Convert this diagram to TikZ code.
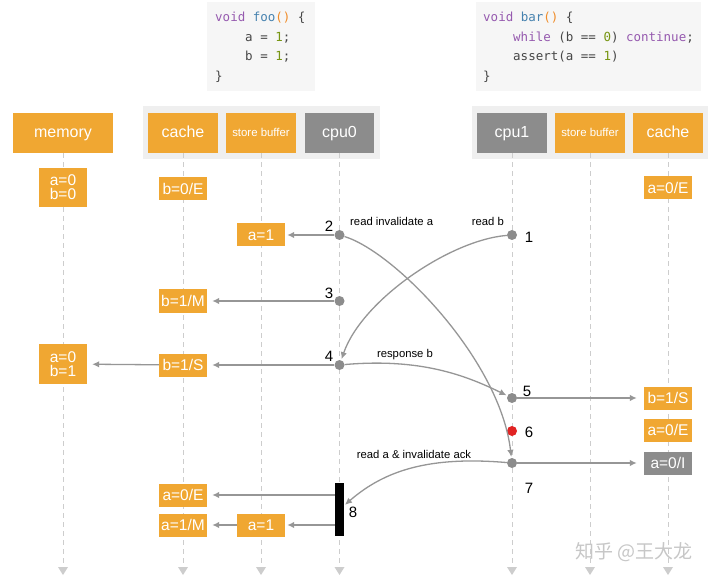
\documentclass[tikz,border=0pt]{standalone}
\usepackage{fontspec}
\setmainfont{Liberation Sans}
\newfontfamily\codefont{DejaVu Sans Mono}
\newfontfamily\cjk{Noto Sans CJK SC}
\usetikzlibrary{arrows.meta}
\definecolor{orng}{RGB}{240,167,50}
\definecolor{gbox}{RGB}{140,140,140}
\definecolor{panel}{RGB}{239,239,239}
\definecolor{codebg}{RGB}{246,246,246}
\definecolor{lline}{RGB}{205,205,205}
\definecolor{arr}{RGB}{150,150,150}
\definecolor{kw}{RGB}{150,90,175}
\definecolor{fn}{RGB}{70,130,175}
\definecolor{par}{RGB}{240,140,40}
\definecolor{num}{RGB}{120,150,20}
\definecolor{ctext}{RGB}{70,70,70}
\definecolor{reddot}{RGB}{225,35,35}
\tikzset{
  hdr/.style={fill=orng, text=white, inner sep=0pt, minimum height=40pt, text height=9pt, text depth=0pt, font=\fontsize{16}{18}\selectfont},
  cpubox/.style={hdr, fill=gbox},
  sbox/.style={hdr, text height=7pt, font=\fontsize{11.4}{13}\selectfont},
  val/.style={fill=orng, text=white, inner sep=0pt, minimum height=23pt, minimum width=48pt, font=\fontsize{15.5}{17}\selectfont, align=center},
  lifeline/.style={draw=lline, line width=1pt, dash pattern=on 5pt off 4pt},
  lltip/.style={fill=lline, draw=none},
  msg/.style={draw=arr, line width=1.3pt, -{Latex[length=7pt,width=6.5pt]}, shorten >=5pt},
  dot/.style={circle, fill=gbox, inner sep=0pt, minimum size=10pt},
  num/.style={font=\fontsize{15}{17}\selectfont, inner sep=0pt},
  lbl/.style={font=\fontsize{11.3}{13}\selectfont, inner sep=0pt},
  code/.style={anchor=base west, inner sep=0pt, font=\codefont\fontsize{12.5}{14}\selectfont, text=ctext},
}
\begin{document}
\begin{tikzpicture}[x=1pt,y=-1pt]
\useasboundingbox[fill=white] (0,0) rectangle (720,585);
% code boxes
\fill[codebg] (207,2) rectangle (315,91);
\fill[codebg] (476,2) rectangle (701,91);
\node[code] (c1) at (215,22) {\textcolor{kw}{void} \textcolor{fn}{foo}\textcolor{par}{()} \{};
\node[code] (c2) at (245,41.5) {a = \textcolor{num}{1};};
\node[code] (c3) at (245,61) {b = \textcolor{num}{1};};
\node[code] (c4) at (215,80.5) {\}};
\node[code] (d1) at (483,22) {\textcolor{kw}{void} \textcolor{fn}{bar}\textcolor{par}{()} \{};
\node[code] (d2) at (513,41.5) {\textcolor{kw}{while} (b == \textcolor{num}{0}) \textcolor{kw}{continue};};
\node[code] (d3) at (513,61) {assert(a == \textcolor{num}{1})};
\node[code] (d4) at (483,80.5) {\}};
% panels
\fill[panel] (143,106) rectangle (380,159);
\fill[panel] (472,106) rectangle (708,159);
% headers
\node[hdr, minimum width=100pt] (mem) at (63,133) {memory};
\node[hdr, minimum width=70pt] (cache0) at (183,133) {cache};
\node[sbox, minimum width=70pt] (sb0) at (261,133) {store buffer};
\node[cpubox, minimum width=69pt] (cpu0) at (339.5,133) {cpu0};
\node[cpubox, minimum width=70pt] (cpu1) at (512,133) {cpu1};
\node[sbox, minimum width=70pt] (sb1) at (590,133) {store buffer};
\node[hdr, minimum width=70pt] (cache1) at (668,133) {cache};
% lifelines
\foreach \n/\x in {mem/63, cache0/183, sb0/261, cpu0/339.5, cpu1/512, sb1/590, cache1/668}{
  \coordinate (\n end) at (\x,564);
  \draw[lifeline] (\n.south) -- (\n end);
  \fill[lltip] (\x-5,567) -- (\x+5,567) -- (\x,575) -- cycle;
}
% initial values
\node[val, minimum height=39pt] (m0) at (63,187.5) {a=0\\[-3pt]b=0};
\node[val] (b0E) at (183,189) {b=0/E};
\node[val] (a0E) at (668,188) {a=0/E};
% events
\node[dot] (e1) at (512,235) {};
\node[dot] (e2) at (339.5,235) {};
\node[dot] (e3) at (339.5,301) {};
\node[dot] (e4) at (339.5,365) {};
\node[dot] (e5) at (512,398) {};
\node[circle, fill=reddot, inner sep=0pt, minimum size=10pt] (e6) at (512,431) {};
\node[dot] (e7) at (512,463) {};
\node[fill=black, inner sep=0pt, minimum width=9pt, minimum height=53pt] (bar) at (339.5,509.5) {};
% value boxes
\node[val] (a1) at (261,235) {a=1};
\node[val] (b1M) at (183,301) {b=1/M};
\node[val] (b1S) at (183,365) {b=1/S};
\node[val, minimum height=40pt] (m1) at (63,364) {a=0\\[-3pt]b=1};
\node[val] (rb1S) at (668,398) {b=1/S};
\node[val] (ra0E) at (668,430) {a=0/E};
\node[val, fill=gbox] (ra0I) at (668,463) {a=0/I};
\node[val] (la0E) at (183,495) {a=0/E};
\node[val] (la1) at (261,525) {a=1};
\node[val] (la1M) at (183,525) {a=1/M};
% straight messages
\draw[msg, shorten >=2pt] (e2) -- (a1);
\draw[msg] (e3) -- (b1M);
\draw[msg] (e4) -- (b1S);
\draw[msg] (b1S) -- (m1);
\draw[msg, shorten >=7pt] (e5) -- (rb1S);
\draw[msg, shorten >=7pt] (e7) -- (ra0I);
\draw[msg] (bar.west |- la0E) -- (la0E);
\draw[msg, shorten >=2pt] (bar.west |- la1) -- (la1);
\draw[msg] (la1) -- (la1M);
% curved messages
\draw[msg, shorten >=1pt] (e1) .. controls (450,240) and (362,300) .. (e4);
\draw[msg, shorten >=1pt] (e2) .. controls (395,252) and (500,360) .. (e7);
\draw[msg, shorten >=1pt] (e4) .. controls (420,358) and (465,375) .. (e5);
\draw[msg, shorten >=1pt] (e7) .. controls (430,456) and (385,470) .. ([yshift=4pt]bar.east);
% labels
\node[num] (n1) at (529,237) {1};
\node[num] (n2) at (329,226) {2};
\node[num] (n3) at (329,293) {3};
\node[num] (n4) at (329,356) {4};
\node[num] (n5) at (527,391) {5};
\node[num] (n6) at (529,432) {6};
\node[num] (n7) at (529,488) {7};
\node[num] (n8) at (353,512) {8};
\node[lbl, anchor=west] (l1) at (350,221) {read invalidate a};
\node[lbl, anchor=east] (l2) at (504,221) {read b};
\node[lbl] (l3) at (405,355) {response b};
\node[lbl] (l4) at (414,454) {read a \& invalidate ack};
% watermark
\node[text=black!22, font=\cjk\fontsize{19}{21}\selectfont, inner sep=0pt] (wm) at (634,552) {知乎 @王大龙};
\end{tikzpicture}
\end{document}
